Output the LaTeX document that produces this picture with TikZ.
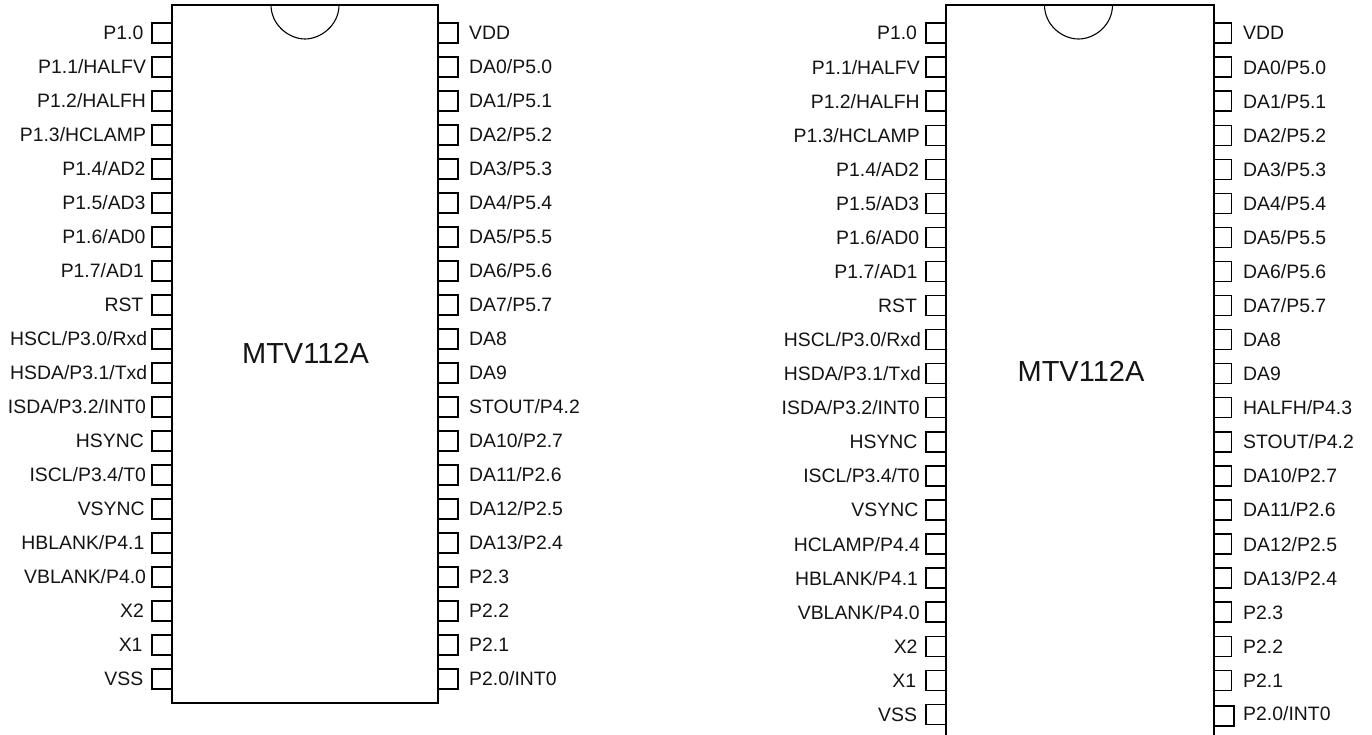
\documentclass[tikz,border=0pt]{standalone}
\usepackage{fontspec}
\setmainfont{Liberation Sans}
\tikzset{
  body/.style={draw=black,line width=1.4pt,fill=white},
  notch/.style={draw=black,line width=1.1pt},
  pin/.style={draw=black,line width=1.4pt,fill=white,rectangle,inner sep=0pt,outer sep=0pt,minimum height=20pt},
  lpin/.style={pin,minimum width=20pt},
  rpin/.style={pin,minimum width=20pt},
  lab/.style={inner sep=0pt,font=\fontsize{19.4}{19.4}\selectfont,text=black!92,text height=13.9pt,text depth=0pt},
  title/.style={inner sep=0pt,font=\fontsize{29}{29}\selectfont,text=black!92}
}
\begin{document}
\begin{tikzpicture}[x=1pt,y=-1pt]
\useasboundingbox (0,0) rectangle (1372,735);
% ---- first chip ----
\draw[body] (172,5) rectangle (438,703);
\draw[notch] (271,5) .. controls (271,25) and (289,39) .. (305,39) .. controls (321,39) and (339,25) .. (339,5);
\node[title] (titleA) at (305.5,353) {MTV112A};
\foreach \t/\e [count=\i from 0] in {P1.0/143.5,P1.1{/}HALFV/146.2,P1.2{/}HALFH/146.2,P1.3{/}HCLAMP/146.2,P1.4{/}AD2/145.7,P1.5{/}AD3/145.7,P1.6{/}AD0/145.7,P1.7{/}AD1/144,RST/143.5,HSCL{/}P3.0{/}Rxd/147.3,HSDA{/}P3.1{/}Txd/147.3,ISDA{/}P3.2{/}INT0/146.2,HSYNC/144,ISCL{/}P3.4{/}T0/146.2,VSYNC/144.8,HBLANK{/}P4.1/144.5,VBLANK{/}P4.0/146.2,X2/144,X1/142.7,VSS/143.5}{
  \node[lpin] (al\i) at (162,33+34*\i) {};
  \node[lab,anchor=east] (alt\i) at (\e,33+34*\i) {\t};
}
\foreach \t [count=\i from 0] in {VDD,DA0/P5.0,DA1/P5.1,DA2/P5.2,DA3/P5.3,DA4/P5.4,DA5/P5.5,DA6/P5.6,DA7/P5.7,DA8,DA9,STOUT/P4.2,DA10/P2.7,DA11/P2.6,DA12/P2.5,DA13/P2.4,P2.3,P2.2,P2.1,P2.0/INT0}{
  \node[rpin] (ar\i) at (448,33+34*\i) {};
  \node[lab,anchor=west] (art\i) at (469,33+34*\i) {\t};
}
% ---- second chip ----
\draw[body] (946,735) -- (946,5) -- (1214,5) -- (1214,735);
\draw[notch] (1044.5,5) .. controls (1044.5,25) and (1062,39) .. (1078.5,39) .. controls (1095,39) and (1112.5,25) .. (1112.5,5);
\node[title] (titleB) at (1081,371) {MTV112A};
\foreach \t/\e [count=\i from 0] in {P1.0/143.5,P1.1{/}HALFV/146.2,P1.2{/}HALFH/146.2,P1.3{/}HCLAMP/146.2,P1.4{/}AD2/145.7,P1.5{/}AD3/145.7,P1.6{/}AD0/145.7,P1.7{/}AD1/144,RST/143.5,HSCL{/}P3.0{/}Rxd/147.3,HSDA{/}P3.1{/}Txd/147.3,ISDA{/}P3.2{/}INT0/146.2,HSYNC/144,ISCL{/}P3.4{/}T0/146.2,VSYNC/144.8,HCLAMP{/}P4.4/146.5,HBLANK{/}P4.1/144.5,VBLANK{/}P4.0/146.2,X2/144,X1/142.7,VSS/143.5}{
  \node[lpin] (bl\i) at (936,33+34.07*\i) {};
  \node[lab,anchor=east] (blt\i) at (\e+773.7,33+34.07*\i) {\t};
}
\foreach \t [count=\i from 0] in {VDD,DA0/P5.0,DA1/P5.1,DA2/P5.2,DA3/P5.3,DA4/P5.4,DA5/P5.5,DA6/P5.6,DA7/P5.7,DA8,DA9,HALFH/P4.3,STOUT/P4.2,DA10/P2.7,DA11/P2.6,DA12/P2.5,DA13/P2.4,P2.3,P2.2,P2.1}{
  \node[rpin,minimum width=17.5pt] (br\i) at (1222.75,33+34.07*\i) {};
  \node[lab,anchor=west] (brt\i) at (1243,33+34.07*\i) {\t};
}
\node[rpin] (br20) at (1224,716) {};
\node[lab,anchor=west] (brt20) at (1243,714) {P2.0/INT0};
\end{tikzpicture}
\end{document}
